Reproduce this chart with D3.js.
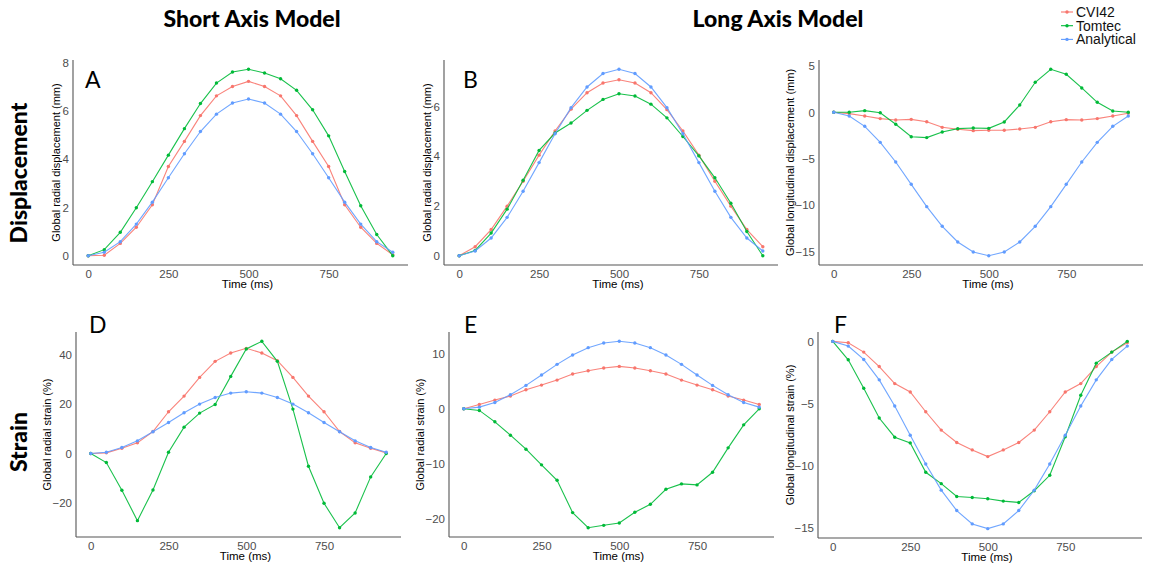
<!DOCTYPE html>
<html>
<head>
<meta charset="utf-8">
<script src="https://cdn.jsdelivr.net/npm/d3@7"></script>
<style>
  html, body { margin: 0; padding: 0; background: #fff; }
  svg { display: block; }
</style>
</head>
<body>
<svg id="chart" width="1151" height="564"></svg>
<script>
// Sampling times (ms)
const timeMs = [0, 50, 100, 150, 200, 250, 300, 350, 400, 450, 500, 550, 600, 650, 700, 750, 800, 850, 900, 950];

// Software packages compared
const seriesNames = ["CVI42", "Tomtec", "Analytical"];
const seriesColors = ["#F8766D", "#00BA38", "#619CFF"];

// A: short axis model, global radial displacement (mm)
const aCvi42      = [0, 0.02, 0.51, 1.18, 2.11, 3.70, 4.74, 5.81, 6.63, 7.02, 7.23, 7.02, 6.63, 5.81, 4.74, 3.70, 2.11, 1.18, 0.51, 0.04];
const aTomtec     = [0, 0.25, 0.97, 1.99, 3.07, 4.17, 5.27, 6.31, 7.16, 7.62, 7.73, 7.58, 7.34, 6.86, 6.05, 4.97, 3.49, 2.07, 0.88, 0];
const aAnalytical = [0, 0.14, 0.58, 1.31, 2.22, 3.23, 4.23, 5.15, 5.87, 6.33, 6.50, 6.33, 5.87, 5.15, 4.23, 3.23, 2.22, 1.31, 0.58, 0.14];

// B: long axis model, global radial displacement (mm)
const bCvi42      = [0, 0.36, 1.05, 1.99, 2.99, 4.04, 5.01, 5.89, 6.55, 6.94, 7.07, 6.94, 6.55, 5.87, 5.01, 4.04, 2.99, 1.99, 1.05, 0.36];
const bTomtec     = [0, 0.21, 0.91, 1.87, 3.03, 4.23, 4.93, 5.33, 5.84, 6.28, 6.51, 6.42, 6.09, 5.54, 4.79, 4.01, 3.13, 2.11, 0.97, 0];
const bAnalytical = [0, 0.19, 0.71, 1.54, 2.59, 3.74, 4.90, 5.95, 6.78, 7.32, 7.49, 7.32, 6.78, 5.95, 4.90, 3.74, 2.59, 1.54, 0.71, 0.19];

// C: long axis model, global longitudinal displacement (mm)
const cCvi42      = [0, -0.14, -0.40, -0.68, -0.83, -0.76, -1.01, -1.62, -1.83, -1.98, -1.94, -1.94, -1.80, -1.62, -1.01, -0.79, -0.83, -0.68, -0.40, -0.10];
const cTomtec     = [0, 0, 0.18, -0.04, -1.29, -2.63, -2.73, -2.12, -1.76, -1.69, -1.73, -1.04, 0.79, 3.24, 4.64, 4.10, 2.63, 1.08, 0.14, 0];
const cAnalytical = [0, -0.40, -1.51, -3.24, -5.36, -7.77, -10.18, -12.30, -13.99, -15.07, -15.47, -15.07, -13.99, -12.30, -10.18, -7.77, -5.36, -3.24, -1.51, -0.40];

// D: short axis model, global radial strain (%)
const dCvi42      = [0, 0.27, 2.16, 4.31, 8.89, 16.85, 23.18, 30.73, 37.2, 40.57, 42.45, 40.57, 37.47, 30.73, 23.18, 16.85, 8.89, 4.31, 2.16, 0.27];
const dTomtec     = [0, -3.64, -14.82, -27.09, -14.69, 0.54, 10.65, 16.31, 19.81, 31.13, 42.18, 45.28, 37.2, 17.92, -5.12, -20.08, -29.92, -23.99, -9.43, 0];
const dAnalytical = [0, 0.54, 2.43, 5.12, 8.76, 12.53, 16.44, 19.95, 22.64, 24.39, 24.93, 24.39, 22.64, 19.95, 16.44, 12.53, 8.76, 5.12, 2.43, 0.54];

// E: long axis model, global radial strain (%)
const eCvi42      = [0, 0.79, 1.59, 2.32, 3.48, 4.33, 5.24, 6.34, 6.95, 7.44, 7.74, 7.44, 6.95, 6.34, 5.24, 4.33, 3.48, 2.32, 1.59, 0.79];
const eTomtec     = [0, -0.3, -2.38, -4.82, -7.38, -10.24, -13.05, -18.96, -21.71, -21.28, -20.85, -18.9, -17.44, -14.70, -13.72, -13.9, -11.59, -7.13, -2.93, 0];
const eAnalytical = [0, 0.3, 1.16, 2.56, 4.27, 6.16, 8.11, 9.82, 11.16, 12.01, 12.32, 12.01, 11.16, 9.82, 8.11, 6.16, 4.27, 2.56, 1.16, 0.3];

// F: long axis model, global longitudinal strain (%)
const fCvi42      = [0, -0.11, -0.86, -2.02, -3.39, -4.06, -5.65, -7.12, -8.12, -8.71, -9.25, -8.71, -8.12, -7.12, -5.65, -4.06, -3.39, -2.02, -0.86, -0.11];
const fTomtec     = [0, -1.48, -3.76, -6.15, -7.69, -8.15, -10.51, -11.42, -12.45, -12.53, -12.63, -12.82, -12.93, -11.99, -10.75, -7.66, -4.33, -1.75, -0.86, 0];
const fAnalytical = [0, -0.38, -1.45, -3.09, -5.19, -7.53, -9.84, -11.94, -13.58, -14.65, -15.03, -14.65, -13.58, -11.94, -9.84, -7.53, -5.19, -3.09, -1.45, -0.38];

// Tick labels
const timeTicks = [0, 250, 500, 750];
const aTicks = [0, 2, 4, 6, 8];
const bTicks = [0, 2, 4, 6];
const cTicks = [-15, -10, -5, 0, 5];
const dTicks = [-20, 0, 20, 40];
const eTicks = [-20, -10, 0, 10];
const fTicks = [-15, -10, -5, 0];

// Panel definitions: data + placement on the page
const panels = [
  { tag: "A", series: [aCvi42, aTomtec, aAnalytical], ticks: aTicks, ylab: "Global radial displacement (mm)",
    box: { l: 73, r: 408, t: 60, b: 265 }, ylabX: 60, tagX: 85, tagY: 88 },
  { tag: "B", series: [bCvi42, bTomtec, bAnalytical], ticks: bTicks, ylab: "Global radial displacement (mm)",
    box: { l: 444, r: 778, t: 60, b: 265 }, ylabX: 431, tagX: 463, tagY: 88 },
  { tag: "",  series: [cCvi42, cTomtec, cAnalytical], ticks: cTicks, ylab: "Global longitudinal displacement (mm)",
    box: { l: 819, r: 1143, t: 60, b: 265 }, ylabX: 794, tagX: 0, tagY: 0 },
  { tag: "D", series: [dCvi42, dTomtec, dAnalytical], ticks: dTicks, ylab: "Global radial strain (%)",
    box: { l: 76, r: 401, t: 332, b: 537 }, ylabX: 51, tagX: 89, tagY: 333 },
  { tag: "E", series: [eCvi42, eTomtec, eAnalytical], ticks: eTicks, ylab: "Global radial strain (%)",
    box: { l: 449, r: 774, t: 332, b: 537 }, ylabX: 424, tagX: 464, tagY: 333 },
  { tag: "F", series: [fCvi42, fTomtec, fAnalytical], ticks: fTicks, ylab: "Global longitudinal strain (%)",
    box: { l: 818, r: 1142, t: 332, b: 538 }, ylabX: 794, tagX: 834, tagY: 333 }
];

const svg = d3.select("#chart");
const axisFont = "'Liberation Sans', Arial, sans-serif";
const headFont = "Lato, 'Open Sans', sans-serif";

// Expand a [min, max] extent by 5% on both sides
function expand(ext) {
  const pad = (ext[1] - ext[0]) * 0.05;
  return [ext[0] - pad, ext[1] + pad];
}

panels.forEach(p => {
  const g = svg.append("g");
  const x = d3.scaleLinear().domain(expand(d3.extent(timeMs))).range([p.box.l, p.box.r]);
  const allY = p.series.flat();
  const y = d3.scaleLinear().domain(expand(d3.extent(allY))).range([p.box.b, p.box.t]);

  // Axes
  const xAxis = d3.axisBottom(x).tickValues(timeTicks).tickSize(0).tickPadding(5).tickFormat(d3.format("d"));
  const yAxis = d3.axisLeft(y).tickValues(p.ticks).tickSize(0).tickPadding(4).tickFormat(d3.format("d"));

  const gx = g.append("g").attr("transform", `translate(0,${p.box.b})`).call(xAxis);
  const gy = g.append("g").attr("transform", `translate(${p.box.l},0)`).call(yAxis);
  [gx, gy].forEach(ax => {
    ax.attr("font-family", null).attr("font-size", null);
    ax.select(".domain").attr("stroke", "#555").attr("stroke-width", 1.1);
    ax.selectAll("text").attr("fill", "#4d4d4d").style("font-family", axisFont).style("font-size", "11.5px");
  });
  // Join the two axis lines at the corner
  gx.select(".domain").attr("d", `M${p.box.l},0H${p.box.r}`);
  gy.select(".domain").attr("d", `M0,${p.box.t}V${p.box.b}`);

  // Axis titles
  g.append("text")
    .attr("x", (p.box.l + p.box.r) / 2 + 7)
    .attr("y", p.box.b + 23)
    .attr("text-anchor", "middle")
    .style("font-family", axisFont).style("font-size", "11.5px").attr("fill", "#000")
    .text("Time (ms)");
  g.append("text")
    .attr("transform", `translate(${p.ylabX},${(p.box.t + p.box.b) / 2}) rotate(-90)`)
    .attr("text-anchor", "middle")
    .style("font-family", axisFont).style("font-size", "11px").attr("fill", "#000")
    .text(p.ylab);

  // Lines and points, one series at a time
  const line = d3.line().x((d, i) => x(timeMs[i])).y(d => y(d));
  p.series.forEach((vals, si) => {
    g.append("path")
      .datum(vals)
      .attr("d", line)
      .attr("fill", "none")
      .attr("stroke", seriesColors[si])
      .attr("stroke-width", 1.1)
      .attr("stroke-opacity", 0.9);
    g.selectAll(null)
      .data(vals)
      .enter().append("circle")
      .attr("cx", (d, i) => x(timeMs[i]))
      .attr("cy", d => y(d))
      .attr("r", 1.7)
      .attr("fill", seriesColors[si]);
  });

  // Panel tag
  if (p.tag) {
    g.append("text")
      .attr("x", p.tagX).attr("y", p.tagY)
      .style("font-family", headFont).style("font-size", "23px").attr("fill", "#000")
      .text(p.tag);
  }
});

// Column headings
const headStyle = sel => sel
  .style("font-family", headFont).style("font-weight", "900").style("font-size", "23px").attr("fill", "#000");
svg.append("text").attr("x", 252).attr("y", 27).attr("text-anchor", "middle").call(headStyle)
  .text("Short Axis Model");
svg.append("text").attr("x", 778).attr("y", 27).attr("text-anchor", "middle").call(headStyle)
  .text("Long Axis Model");

// Row headings
svg.append("text").attr("transform", "translate(27,173) rotate(-90)").attr("text-anchor", "middle").call(headStyle)
  .text("Displacement");
svg.append("text").attr("transform", "translate(27,442) rotate(-90)").attr("text-anchor", "middle").call(headStyle)
  .text("Strain");

// Legend
const legend = svg.append("g");
seriesNames.forEach((name, i) => {
  const cy = 12 + i * 13.7;
  legend.append("line").attr("x1", 1061).attr("x2", 1073).attr("y1", cy).attr("y2", cy)
    .attr("stroke", seriesColors[i]).attr("stroke-width", 1.1);
  legend.append("circle").attr("cx", 1067).attr("cy", cy).attr("r", 1.7).attr("fill", seriesColors[i]);
  legend.append("text").attr("x", 1076).attr("y", cy + 5)
    .style("font-family", axisFont).style("font-size", "14px").attr("fill", "#111")
    .text(name);
});
</script>
</body>
</html>
